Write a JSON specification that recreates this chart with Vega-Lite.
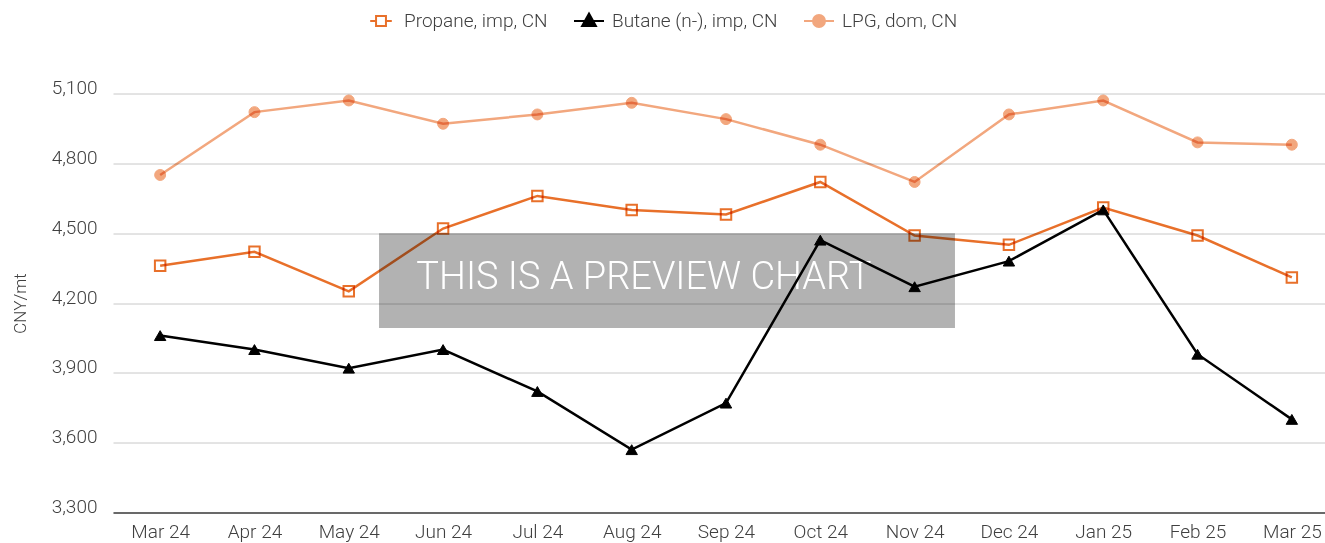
{
  "$schema": "https://vega.github.io/schema/vega-lite/v6.json",
  "width": 1212,
  "height": 419,
  "autosize": "none",
  "padding": {"left": 113, "top": 93.5, "right": 0, "bottom": 30.5},
  "config": {
    "font": "Roboto",
    "view": {"stroke": null},
    "axis": {"labelFont": "Roboto", "titleFont": "Roboto"},
    "legend": {"labelFont": "Roboto"}
  },
  "datasets": {
    "prices": [
      {"month": "Mar 24", "series": "Propane, imp, CN", "value": 4360},
      {"month": "Apr 24", "series": "Propane, imp, CN", "value": 4420},
      {"month": "May 24", "series": "Propane, imp, CN", "value": 4250},
      {"month": "Jun 24", "series": "Propane, imp, CN", "value": 4520},
      {"month": "Jul 24", "series": "Propane, imp, CN", "value": 4660},
      {"month": "Aug 24", "series": "Propane, imp, CN", "value": 4600},
      {"month": "Sep 24", "series": "Propane, imp, CN", "value": 4580},
      {"month": "Oct 24", "series": "Propane, imp, CN", "value": 4720},
      {"month": "Nov 24", "series": "Propane, imp, CN", "value": 4490},
      {"month": "Dec 24", "series": "Propane, imp, CN", "value": 4450},
      {"month": "Jan 25", "series": "Propane, imp, CN", "value": 4610},
      {"month": "Feb 25", "series": "Propane, imp, CN", "value": 4490},
      {"month": "Mar 25", "series": "Propane, imp, CN", "value": 4310},
      {"month": "Mar 24", "series": "Butane (n-), imp, CN", "value": 4060},
      {"month": "Apr 24", "series": "Butane (n-), imp, CN", "value": 4000},
      {"month": "May 24", "series": "Butane (n-), imp, CN", "value": 3920},
      {"month": "Jun 24", "series": "Butane (n-), imp, CN", "value": 4000},
      {"month": "Jul 24", "series": "Butane (n-), imp, CN", "value": 3820},
      {"month": "Aug 24", "series": "Butane (n-), imp, CN", "value": 3570},
      {"month": "Sep 24", "series": "Butane (n-), imp, CN", "value": 3770},
      {"month": "Oct 24", "series": "Butane (n-), imp, CN", "value": 4470},
      {"month": "Nov 24", "series": "Butane (n-), imp, CN", "value": 4270},
      {"month": "Dec 24", "series": "Butane (n-), imp, CN", "value": 4380},
      {"month": "Jan 25", "series": "Butane (n-), imp, CN", "value": 4600},
      {"month": "Feb 25", "series": "Butane (n-), imp, CN", "value": 3980},
      {"month": "Mar 25", "series": "Butane (n-), imp, CN", "value": 3700},
      {"month": "Mar 24", "series": "LPG, dom, CN", "value": 4750},
      {"month": "Apr 24", "series": "LPG, dom, CN", "value": 5020},
      {"month": "May 24", "series": "LPG, dom, CN", "value": 5070},
      {"month": "Jun 24", "series": "LPG, dom, CN", "value": 4970},
      {"month": "Jul 24", "series": "LPG, dom, CN", "value": 5010},
      {"month": "Aug 24", "series": "LPG, dom, CN", "value": 5060},
      {"month": "Sep 24", "series": "LPG, dom, CN", "value": 4990},
      {"month": "Oct 24", "series": "LPG, dom, CN", "value": 4880},
      {"month": "Nov 24", "series": "LPG, dom, CN", "value": 4720},
      {"month": "Dec 24", "series": "LPG, dom, CN", "value": 5010},
      {"month": "Jan 25", "series": "LPG, dom, CN", "value": 5070},
      {"month": "Feb 25", "series": "LPG, dom, CN", "value": 4890},
      {"month": "Mar 25", "series": "LPG, dom, CN", "value": 4880}
    ],
    "watermark": [
      {"x0": 0.2195, "x1": 0.6947, "y0": 4500, "y1": 4093, "xc": 0.438, "yc": 4306, "label": "THIS IS A PREVIEW CHART"}
    ]
  },
  "layer": [
    {
      "data": {"name": "watermark"},
      "layer": [
        {
          "mark": {"type": "rect", "color": "#b2b2b2", "opacity": 1, "blend": "multiply"},
          "encoding": {
            "x": {"field": "x0", "type": "quantitative", "scale": {"domain": [0, 1], "nice": false, "zero": false}, "axis": null},
            "x2": {"field": "x1"},
            "y": {"field": "y0", "type": "quantitative", "scale": {"domain": [3300, 5100], "zero": false, "nice": false}},
            "y2": {"field": "y1"}
          }
        },
        {
          "mark": {"type": "text", "color": "#ffffff", "fontSize": 38, "font": "Roboto", "fontWeight": 300, "align": "center", "baseline": "middle"},
          "encoding": {
            "x": {"field": "xc", "type": "quantitative", "scale": {"domain": [0, 1], "nice": false, "zero": false}, "axis": null},
            "y": {"field": "yc", "type": "quantitative"},
            "text": {"field": "label"}
          }
        }
      ]
    },
    {
      "data": {"name": "prices"},
      "encoding": {
        "x": {
          "field": "month",
          "type": "ordinal",
          "sort": null,
          "scale": {"type": "point", "range": [0, 1226], "padding": 0.5},
          "axis": {
            "title": null,
            "labelAngle": 0,
            "labelFontSize": 19,
            "labelFontWeight": 300,
            "labelColor": "#404040",
            "labelPadding": 10,
            "ticks": false,
            "domainColor": "#404040",
            "domainWidth": 1.5,
            "grid": false
          }
        },
        "y": {
          "field": "value",
          "type": "quantitative",
          "scale": {"domain": [3300, 5100], "zero": false, "nice": false},
          "axis": {
            "values": [3300, 3600, 3900, 4200, 4500, 4800, 5100],
            "format": ",.0f",
            "title": "CNY/mt",
            "titleFontSize": 17,
            "titleFontWeight": 300,
            "titleColor": "#404040",
            "titlePadding": 22,
            "labelFontSize": 19,
            "labelFontWeight": 300,
            "labelColor": "#404040",
            "labelBaseline": "alphabetic",
            "labelPadding": 16,
            "ticks": false,
            "domain": false,
            "grid": true,
            "gridColor": "#c8c8c8",
            "gridWidth": 1
          }
        },
        "stroke": {
          "field": "series",
          "type": "nominal",
          "sort": null,
          "scale": {
            "domain": ["Propane, imp, CN", "Butane (n-), imp, CN", "LPG, dom, CN"],
            "range": ["#E8702A", "#000000", "#F2A77E"]
          },
          "legend": {
            "title": null,
            "orient": "none",
            "direction": "horizontal",
            "legendX": 252,
            "legendY": -88.5,
            "labelFontSize": 19,
            "labelFontWeight": 300,
            "labelColor": "#404040",
            "labelLimit": 400,
            "labelOffset": 7,
            "columnPadding": 22,
            "symbolSize": 900,
            "symbolStrokeWidth": 2.5,
            "encode": {
              "symbols": {
                "update": {
                  "shape": {"signal": "datum.value === 'Propane, imp, CN' ? 'M-0.72,0H-0.33M0.33,0H0.72M-0.33,-0.33H0.33V0.33H-0.33Z' : datum.value === 'Butane (n-), imp, CN' ? 'M-1,0H1M0,-0.5L0.46,0.33L-0.46,0.33Z' : 'M-1,0H1M0.4,0A0.4,0.4 0 1 1 -0.4,0A0.4,0.4 0 1 1 0.4,0Z'"},
                  "fill": {"signal": "datum.value === 'Propane, imp, CN' ? '#ffffff' : datum.value === 'Butane (n-), imp, CN' ? '#000000' : '#F2A77E'"},
                  "strokeWidth": {"value": 2}
                }
              }
            }
          }
        }
      },
      "layer": [
        {"mark": {"type": "line", "strokeWidth": 2.5, "blend": "multiply"}},
        {
          "transform": [{"filter": "datum.series === 'Propane, imp, CN'"}],
          "mark": {"type": "point", "shape": "square", "filled": false, "fill": "#ffffff", "strokeWidth": 2, "opacity": 1, "size": 110, "blend": "multiply"}
        },
        {
          "transform": [{"filter": "datum.series === 'Butane (n-), imp, CN'"}],
          "mark": {"type": "point", "shape": "triangle-up", "filled": true, "fill": "#000000", "strokeWidth": 1, "opacity": 1, "size": 130, "blend": "multiply"}
        },
        {
          "transform": [{"filter": "datum.series === 'LPG, dom, CN'"}],
          "mark": {"type": "point", "shape": "circle", "filled": true, "fill": "#F2A77E", "strokeWidth": 1, "opacity": 1, "size": 120, "blend": "multiply"}
        }
      ]
    }
  ],
  "resolve": {"scale": {"x": "independent"}, "axis": {"x": "independent"}}
}
